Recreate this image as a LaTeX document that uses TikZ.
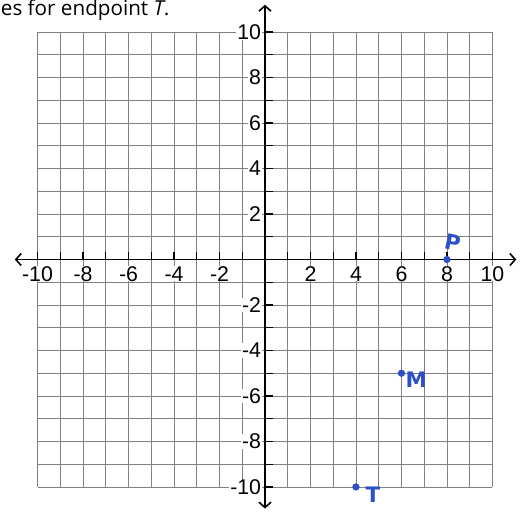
\documentclass[tikz,border=0pt]{standalone}
\usepackage{fontspec}
\setmainfont{Liberation Sans}
\setsansfont{DejaVu Sans}
\newfontfamily\headfont{Open Sans}
\usetikzlibrary{arrows.meta, positioning}
\definecolor{pointblue}{RGB}{45,80,200}

\begin{document}
\begin{tikzpicture}[
    x=0.6cm, y=0.6cm,
    gridline/.style={draw=black!50, line width=0.6pt, step=1},
    axis/.style={line width=1.2pt, {Straight Barb[length=4pt,width=9pt]}-{Straight Barb[length=4pt,width=9pt]}},
    axistick/.style={line width=0.9pt},
    ticklabel/.style={fill=white, inner xsep=1pt, inner ysep=0pt, text depth=0pt, font=\fontsize{16}{16}\selectfont},
    dot/.style={circle, fill=pointblue, inner sep=0pt, minimum size=5.5pt},
    hand/.style={text=pointblue, font=\fontsize{16}{16}\sffamily\bfseries\selectfont, inner sep=0pt}
]
\useasboundingbox (-11.65,-11.19) rectangle (11.74,11.41);

% heading, cut off on the left
\node (head) [anchor=base west, inner sep=0pt, font=\headfont\fontsize{15.5}{15.5}\selectfont] at (-11.62,10.72) {es for endpoint \textit{T}.};

% grid and axes
\draw [gridline] (-10,-10) grid (10,10);
\coordinate (xleft) at (-11.0,0);
\coordinate (xright) at (11.05,0);
\coordinate (ybottom) at (0,-10.95);
\coordinate (ytop) at (0,11.2);
\draw [axis] (xleft) -- (xright);
\draw [axis] (ybottom) -- (ytop);
\foreach \i in {-10,...,10} {
    \draw [axistick] (\i,0) -- (\i,0.35);
    \draw [axistick] (0,\i) -- (0.35,\i);
}

% axis numbers
\foreach \i in {-10,-8,-6,-4,-2,2,4,6,8,10} {
    \node [ticklabel, anchor=base] at (\i,-0.95) {\i};
    \node [ticklabel, anchor=east] at (-0.1,\i) {\i};
}

% plotted points
\node (P) [dot] at (8,0) {};
\node (M) [dot] at (6,-5) {};
\node (T) [dot] at (4,-10) {};
\node (Plabel) [hand, rotate=-12] at (8.25,0.75) {P};
\node (Mlabel) [hand] at (6.65,-5.3) {M};
\node (Tlabel) [hand] at (4.75,-10.35) {T};
\end{tikzpicture}
\end{document}
